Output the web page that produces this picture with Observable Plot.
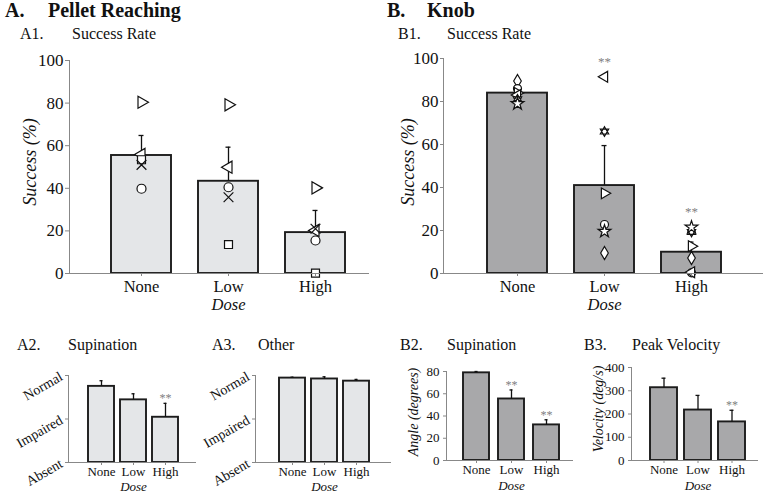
<!DOCTYPE html>
<html><head><meta charset="utf-8">
<script src="https://cdn.jsdelivr.net/npm/d3@7"></script>
<script src="https://cdn.jsdelivr.net/npm/@observablehq/plot@0.6"></script>
<style>
body{margin:0;background:#fff;}
#fig{position:relative;width:765px;height:493px;overflow:hidden;font-family:'Liberation Serif','Times New Roman',serif;color:#111;background:#fff;}
.t{position:absolute;line-height:1;white-space:nowrap;}
.h{font-weight:bold;font-size:20px;}
.s{font-size:16px;}
#fig svg, #fig svg text{font-family:'Liberation Serif','Times New Roman',serif;}
</style></head><body><div id="fig"></div>
<script>
// ---------- data ----------
const doses = ["None", "Low", "High"];
const levelLabels = ["Absent", "Impaired", "Normal"];

// A1 Pellet reaching success rate (%)
const a1Mean = [55.4, 43.3, 19.2];
const a1Err = [64.8, 59.3, 29.6];
const a1Circle = [39.8, 40.5, 15.5];
const a1Square = [53.4, 13.6, 0.2];
const a1Times = [51, 35.8, 21];
const a1TriLeft = [55.9, 49.9, 20.2];
const a1TriRight = [80.4, 79.2, 40.2];

// B1 Knob success rate (%)
const b1Mean = [83.9, 40.9, 9.9];
const b1Err = [85.5, 59.5, 14.6];
const b1Sig = ["", "**", "**"];
const b1Diamond = [89.5, 9.5, 7.2];
const b1Circle = [86, 22.8, 0.3];
const b1TriRight = [84, 37.3, 12.7];
const b1TriLeft = [83, 91.5, 0.6];
const b1Hexagram = [81, 66, 19.3];
const b1Star = [79, 19.6, 21.5];

// A2 Supination score (0 Absent, 1 Impaired, 2 Normal)
const a2Mean = [1.75, 1.44, 1.04];
const a2Err = [1.88, 1.58, 1.36];
const a2Sig = ["", "", "**"];
// A3 Other
const a3Mean = [1.94, 1.92, 1.87];
const a3Err = [1.96, 1.97, 1.91];
const a3Sig = ["", "", ""];
// B2 Supination angle (degrees)
const b2Mean = [78.8, 55.3, 32];
const b2Err = [80, 63.4, 36.6];
const b2Sig = ["", "**", "**"];
// B3 Peak velocity (deg/s)
const b3Mean = [313, 217, 166];
const b3Err = [354, 280, 216];
const b3Sig = ["", "", "**"];

const pctTicks = [0, 20, 40, 60, 80, 100];
const levelTicks = [0, 1, 2];
const angleTicks = [0, 20, 40, 60, 80];
const velTicks = [0, 100, 200, 300, 400];

// ---------- helpers ----------
const FONT = "'Liberation Serif', 'Times New Roman', serif";
const hexagram = {
  draw(ctx, size) {
    const r = Math.sqrt(size / Math.PI) * 1.2;
    for (const a0 of [-90, 90]) {
      for (let k = 0; k < 3; k++) {
        const a = (a0 + k * 120) * Math.PI / 180;
        const x = r * Math.cos(a), y = r * Math.sin(a);
        if (k) ctx.lineTo(x, y); else ctx.moveTo(x, y);
      }
      ctx.closePath();
    }
  }
};

const fig = document.getElementById("fig");

function panel(o) {
  const data = doses.map((d, i) => ({
    dose: d, mean: o.mean[i], err: o.err[i], sig: o.sig ? o.sig[i] : "",
    top: Math.max(o.err[i], ...(o.pts || []).map(p => p.vals[i]))
  }));
  const marks = [
    Plot.barY(data, {x: "dose", y: "mean", fill: o.fill, stroke: "#1c1c1c", strokeWidth: 1.9}),
    Plot.ruleX(data, {x: "dose", y1: "mean", y2: "err", stroke: "#111", strokeWidth: 1.3}),
    Plot.tickY(data, {x: "dose", y: "err", stroke: "#111", strokeWidth: 1.3, insetLeft: o.cap, insetRight: o.cap})
  ];
  for (const p of (o.pts || [])) {
    marks.push(Plot.dot(doses.map((d, i) => ({dose: d, v: p.vals[i]})), {
      x: "dose", y: "v", symbol: p.symbol, rotate: p.rotate || 0, r: o.r,
      fill: "white", stroke: "#111", strokeWidth: 1.2
    }));
  }
  marks.push(
    Plot.text(data.filter(d => d.sig), {x: "dose", y: o.sigOnTop ? "top" : "err", text: "sig",
      dy: o.sigDy, fill: "#808080", fontSize: o.sigSize, fontFamily: FONT}),
    Plot.axisY({ticks: o.yTicks, tickFormat: o.yFmt, tickSize: o.yTickSize, tickPadding: o.yPad,
      tickRotate: o.yRotate || 0, stroke: "#888", fill: "#111", fontSize: o.yFont, fontFamily: FONT, label: null}),
    Plot.axisX({tickSize: 3, tickPadding: o.xPad, stroke: "#888", fill: "#111", fontSize: o.xFont, fontFamily: FONT, label: null}),
    Plot.frame({anchor: "left", stroke: "#888"}),
    Plot.frame({anchor: "bottom", stroke: "#888"}),
    Plot.text(["Dose"], {x: () => "Low", text: d => d, frameAnchor: "bottom", lineAnchor: "middle", dy: o.doseDy,
      fontStyle: "italic", fontSize: o.xFont, fontFamily: FONT, fill: "#111"})
  );
  if (o.yLabel) marks.push(Plot.text([o.yLabel], {text: d => d, frameAnchor: "left", textAnchor: "middle",
    lineAnchor: "middle", rotate: -90, dx: o.ylDx, dy: o.ylDy, fontStyle: "italic", fontSize: o.ylSize,
    fontFamily: FONT, fill: "#111"}));
  const svg = Plot.plot({
    width: o.width, height: o.height,
    marginLeft: o.ml, marginRight: o.mr, marginTop: o.mt, marginBottom: o.mb,
    x: {type: "band", domain: doses, range: o.xRange, paddingInner: o.pin, paddingOuter: 0},
    y: {domain: o.yDomain},
    style: {fontFamily: FONT, fontSize: o.xFont + "px", color: "#111",
      background: "transparent", overflow: "visible"},
    marks
  });
  svg.style.position = "absolute";
  svg.style.left = o.left + "px";
  svg.style.top = o.top + "px";
  fig.appendChild(svg);
}

function title(text, cls, x, baseline, size) {
  const el = document.createElement("div");
  el.className = "t " + cls;
  el.textContent = text;
  el.style.left = x + "px";
  el.style.top = (baseline - 0.837 * size) + "px";
  fig.appendChild(el);
}

// ---------- titles ----------
title("A.", "h", 5, 17, 20);
title("Pellet Reaching", "h", 48, 17, 20);
title("A1.", "s", 20, 39, 16);
title("Success Rate", "s", 72, 39, 16);
title("B.", "h", 387, 17, 20);
title("Knob", "h", 427, 17, 20);
title("B1.", "s", 398, 39, 16);
title("Success Rate", "s", 447, 39, 16);
title("A2.", "s", 17, 350, 16);
title("Supination", "s", 68, 350, 16);
title("A3.", "s", 212, 350, 16);
title("Other", "s", 258, 350, 16);
title("B2.", "s", 400, 350, 16);
title("Supination", "s", 447, 350, 16);
title("B3.", "s", 584, 350, 16);
title("Peak Velocity", "s", 632, 350, 16);

// ---------- panels ----------
// A1
panel({
  left: 0, top: 45, width: 380, height: 270, ml: 69, mr: 12, mt: 15, mb: 42,
  xRange: [111, 345], pin: 0.314, yDomain: [0, 100], yTicks: pctTicks,
  yTickSize: 4, yPad: 2, yFont: 17, xFont: 16.5, xPad: 4, doseDy: 31,
  mean: a1Mean, err: a1Err, fill: "#e4e6e8", cap: 27.5, r: 4.5,
  pts: [
    {vals: a1TriRight, symbol: "triangle", rotate: 90},
    {vals: a1TriLeft, symbol: "triangle", rotate: -90},
    {vals: a1Square, symbol: "square"},
    {vals: a1Times, symbol: "times"},
    {vals: a1Circle, symbol: "circle"}
  ],
  yLabel: "Success (%)", ylDx: -39, ylDy: -5, ylSize: 18
});
// B1
panel({
  left: 380, top: 45, width: 385, height: 270, ml: 63, mr: 3, mt: 13, mb: 42,
  xRange: [106, 341], pin: 0.314, yDomain: [0, 100], yTicks: pctTicks,
  yTickSize: 3, yPad: 2, yFont: 17, xFont: 16.5, xPad: 4, doseDy: 31,
  mean: b1Mean, err: b1Err, sig: b1Sig, sigOnTop: true, sigDy: -15, sigSize: 13,
  fill: "#a8a8aa", cap: 27.5, r: 4,
  pts: [
    {vals: b1Diamond, symbol: "diamond"},
    {vals: b1Circle, symbol: "circle"},
    {vals: b1TriRight, symbol: "triangle", rotate: 90},
    {vals: b1TriLeft, symbol: "triangle", rotate: -90},
    {vals: b1Hexagram, symbol: hexagram},
    {vals: b1Star, symbol: "star"}
  ],
  yLabel: "Success (%)", ylDx: -35, ylDy: -4, ylSize: 18
});
// A2
panel({
  left: 0, top: 355, width: 200, height: 138, ml: 68, mr: 5, mt: 20, mb: 31,
  xRange: [87, 180], pin: 0.18, yDomain: [0, 2], yTicks: levelTicks, yFmt: i => levelLabels[i],
  yRotate: -30, yTickSize: 3, yPad: 4, yFont: 14, xFont: 13, xPad: 1.5, doseDy: 24,
  mean: a2Mean, err: a2Err, sig: a2Sig, sigDy: -5, sigSize: 12,
  fill: "#e4e6e8", cap: 11.5
});
// A3
panel({
  left: 190, top: 355, width: 205, height: 138, ml: 65, mr: 5, mt: 20, mb: 31,
  xRange: [88, 180], pin: 0.19, yDomain: [0, 2], yTicks: levelTicks, yFmt: i => levelLabels[i],
  yRotate: -30, yTickSize: 3, yPad: 4, yFont: 14, xFont: 13, xPad: 1.5, doseDy: 24,
  mean: a3Mean, err: a3Err, sig: a3Sig, sigDy: -5, sigSize: 12,
  fill: "#e4e6e8", cap: 11.5
});
// B2
panel({
  left: 395, top: 355, width: 180, height: 138, ml: 51, mr: 3, mt: 16, mb: 33,
  xRange: [67.7, 164.3], pin: 0.246, yDomain: [0, 80], yTicks: angleTicks,
  yTickSize: 3, yPad: 4, yFont: 13, xFont: 13, xPad: 1.5, doseDy: 25,
  mean: b2Mean, err: b2Err, sig: b2Sig, sigDy: -5, sigSize: 12,
  fill: "#a8a8aa", cap: 11.5,
  yLabel: "Angle (degrees)", ylDx: -33, ylDy: -4, ylSize: 14
});
// B3
panel({
  left: 575, top: 355, width: 190, height: 138, ml: 56, mr: 8, mt: 12, mb: 33,
  xRange: [74, 170.7], pin: 0.217, yDomain: [0, 400], yTicks: velTicks,
  yTickSize: 3, yPad: 4, yFont: 13, xFont: 13, xPad: 1.5, doseDy: 25,
  mean: b3Mean, err: b3Err, sig: b3Sig, sigDy: -5, sigSize: 12,
  fill: "#a8a8aa", cap: 11.5,
  yLabel: "Velocity (deg/s)", ylDx: -33, ylDy: -5, ylSize: 14
});
</script>
</body></html>
